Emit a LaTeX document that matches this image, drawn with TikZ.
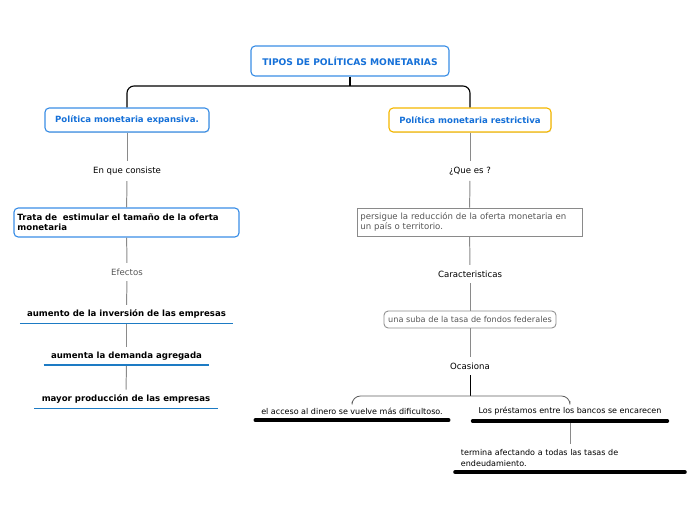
\documentclass[tikz,border=0pt]{standalone}
\usepackage{fontspec}
\setmainfont{DejaVu Sans}
\usepackage{xcolor}
\definecolor{map-blue}{HTML}{1570D8}
\definecolor{map-frame}{HTML}{3A8EE6}
\definecolor{map-gold}{HTML}{F5B800}
\definecolor{map-line}{HTML}{8A8A8A}
\definecolor{map-grey}{HTML}{555555}
\definecolor{map-rule}{HTML}{1D7BC4}
\usepackage{tikz}
\usetikzlibrary{shadows}

\begin{document}
\begin{tikzpicture}[x=0.025cm, y=-0.025cm,
    every node/.style={font=\fontsize{6.1}{7.4}\selectfont, inner sep=0pt},
    topic/.style={draw=map-frame, line width=0.8pt, rounded corners=3pt, fill=white,
      text=map-blue, font=\fontsize{6.1}{7.4}\selectfont\bfseries},
    subtopic/.style={topic, drop shadow={opacity=0.25, shadow xshift=0.4pt, shadow yshift=-0.6pt}},
    label/.style={text=black, inner sep=4pt},
    effect/.style={font=\fontsize{6.1}{7.4}\selectfont\bfseries, inner xsep=5pt, inner ysep=3.3pt},
    leaf/.style={font=\fontsize{5.7}{7.2}\selectfont, inner xsep=4pt, inner ysep=4pt},
    link/.style={map-line, line width=0.7pt},
    bluerule/.style={map-rule, line width=0.9pt},
    blackrule/.style={black, line width=2.6pt, line cap=round}
  ]

    % Frame
    \useasboundingbox (0, 0) rectangle (696, 520);

    % Root
    \node[topic, font=\fontsize{6.5}{7.6}\selectfont\bfseries, minimum width=4.95cm, minimum height=0.75cm] (root) at (350, 61)
      {TIPOS DE POLÍTICAS MONETARIAS};
    \node[subtopic, minimum width=4.1cm, minimum height=0.6cm] (expan) at (127, 120)
      {Política monetaria expansiva.};
    \node[subtopic, draw=map-gold, minimum width=4.05cm, minimum height=0.6cm] (restr) at (470, 120)
      {Política monetaria restrictiva};
    \coordinate (rootjoin) at (350, 86);
    \draw[line width=0.8pt] (root) -- (rootjoin);
    \draw[line width=0.8pt, rounded corners=5pt] (expan.north) |- (rootjoin) -| (restr.north);

    % Left branch
    \node[label] (consiste) at (127, 171) {En que consiste};
    \node[draw=map-frame, line width=0.8pt, rounded corners=3pt, font=\fontsize{6.1}{7.4}\selectfont\bfseries,
      align=left, text width=5.45cm, minimum height=0.725cm, inner xsep=2.5pt] (trata) at (126.5, 222.5)
      {Trata de\ \ estimular el tamaño de la oferta\\monetaria};
    \node[label, text=map-grey] (efectos) at (127, 272) {Efectos};
    \node[effect] (inversion) at (126.5, 314) {aumento de la inversión de las empresas};
    \node[effect] (demanda) at (126.5, 356) {aumenta la demanda agregada};
    \node[effect] (produccion) at (126, 399) {mayor producción de las empresas};

    \draw[link] (expan) -- (consiste);
    \draw[link] (consiste) -- (trata);
    \draw[link] (trata) -- (efectos);
    \draw[link] (efectos) -- (inversion);
    \draw[link] (inversion) -- (demanda);
    \draw[link] (demanda) -- (produccion);
    \draw[bluerule] (inversion.south west) -- (inversion.south east);
    \draw[bluerule] (demanda.south west) -- (demanda.south east);
    \draw[bluerule] (produccion.south west) -- (produccion.south east);

    % Right branch
    \node[label] (queEs) at (470, 171) {¿Que es ?};
    \node[draw=map-line, line width=0.6pt, text=map-grey, align=left, text width=5.45cm,
      minimum height=0.7cm, inner xsep=2.5pt] (persigue) at (469.5, 222)
      {persigue la reducción de la oferta monetaria en\\un país o territorio.};
    \node[label] (caract) at (470, 274) {Caracteristicas};
    \node[draw=map-line, line width=0.6pt, rounded corners=3pt, text=map-grey,
      font=\fontsize{5.8}{7}\selectfont, minimum width=4.3cm, minimum height=0.425cm] (suba) at (470, 319.5)
      {una suba de la tasa de fondos federales};
    \node[label] (ocasiona) at (470, 366) {Ocasiona};

    \draw[link] (restr) -- (queEs);
    \draw[link] (queEs) -- (persigue);
    \draw[link] (persigue) -- (caract);
    \draw[link] (caract) -- (suba);
    \draw[link] (suba) -- (ocasiona);

    % Consequences
    \node[leaf] (acceso) at (352, 411) {el acceso al dinero se vuelve más dificultoso.};
    \node[leaf] (prestamos) at (570, 411) {Los préstamos entre los bancos se encarecen};
    \node[leaf, align=left, text width=5.45cm] (termina) at (570, 458)
      {termina afectando a todas las tasas de\\endeudamiento.};
    \coordinate (ocjoin) at (470, 396);
    \draw[line width=0.6pt] (ocasiona) -- (ocjoin);
    \draw[line width=0.6pt, map-line!70!black, rounded corners=6pt] (acceso.north) |- (ocjoin) -| (prestamos.north);
    \draw[link] (prestamos.south) ++(0, 2) -- (termina.north -| prestamos.south);

    \draw[blackrule] (acceso.south west) -- (acceso.south east);
    \draw[blackrule] (prestamos.south west) -- (prestamos.south east);
    \draw[blackrule] (termina.south west) -- (termina.south east);

\end{tikzpicture}
\end{document}
